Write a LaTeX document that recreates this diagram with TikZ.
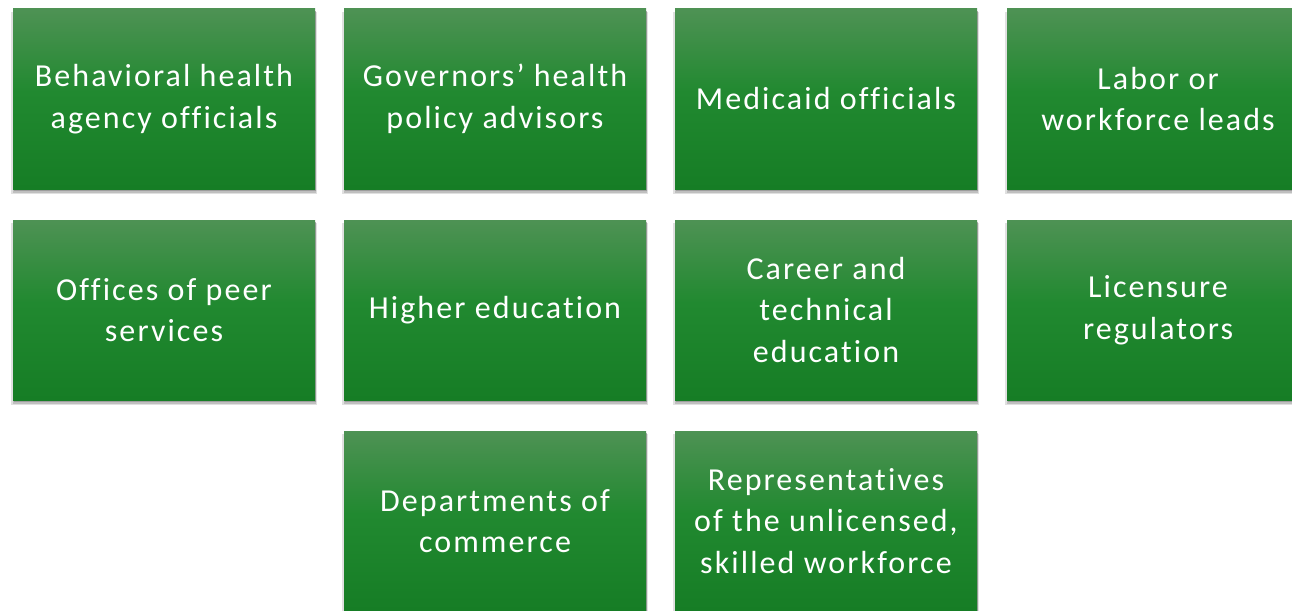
\documentclass[tikz,border=0pt]{standalone}
\usepackage{fontspec}
\setmainfont{Carlito}
\newfontfamily\cardfont[LetterSpace=6.5,Ligatures=NoCommon]{Carlito}
\usetikzlibrary{shadows}
\definecolor{gTop}{RGB}{78,146,84}
\definecolor{gMid}{RGB}{33,137,48}
\definecolor{gBot}{RGB}{22,125,37}
\pgfdeclareverticalshading{boxgreen}{100bp}{color(0bp)=(gBot); color(25bp)=(gBot); color(52bp)=(gMid); color(75bp)=(gTop); color(100bp)=(gTop)}
\tikzset{
  card/.style={rectangle, minimum width=302pt, minimum height=180pt, inner sep=0pt,
    shading=boxgreen, text=white, align=center,
    font=\cardfont\fontsize{32}{41.5}\selectfont,
    drop shadow={shadow xshift=0pt, shadow yshift=-4pt, shadow scale=1.012, opacity=0.12, fill=black},
    drop shadow={shadow xshift=0.5pt, shadow yshift=-3pt, shadow scale=1.006, opacity=0.15, fill=black},
    drop shadow={shadow xshift=0.5pt, shadow yshift=-2pt, opacity=0.18, fill=black}}
}
\begin{document}
\begin{tikzpicture}[x=1pt,y=-1pt]
\useasboundingbox (0,0) rectangle (1292,610);
\clip (0,0) rectangle (1292,610);
\node[card] (a) at (164,99) {Behavioral health\\agency officials};
\node[card] (b) at (495,99) {Governors’ health\\policy advisors};
\node[card] (c) at (826,99) {Medicaid officials};
\node[card] (d) at (1158,99) {Labor or\\workforce leads};
\node[card] (e) at (164,310) {Offices of peer\\services};
\node[card] (f) at (495,310) {Higher education};
\node[card] (g) at (826,310) {Career and\\technical\\education};
\node[card] (h) at (1158,310) {Licensure\\regulators};
\node[card] (i) at (495,521) {Departments of\\commerce};
\node[card] (j) at (826,521) {Representatives\\of the unlicensed,\\skilled workforce};
\end{tikzpicture}
\end{document}
